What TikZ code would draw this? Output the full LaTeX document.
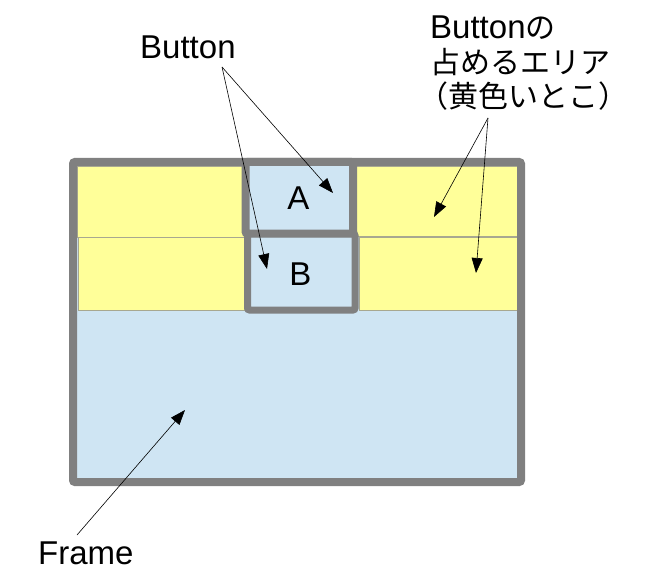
\documentclass[tikz,border=0pt]{standalone}
\usepackage{fontspec}
\setmainfont{Liberation Sans}
\newfontfamily\cjk{Noto Sans CJK JP}
\usetikzlibrary{arrows.meta}
\definecolor{fillblue}{HTML}{CFE5F3}
\definecolor{fillyel}{HTML}{FFFF99}
\definecolor{framegray}{HTML}{808080}
\definecolor{thingray}{HTML}{A8A890}
\begin{document}
\begin{tikzpicture}[x=1pt,y=-1pt,
  lbl/.style={inner sep=0pt,font=\fontsize{33}{38}\selectfont},
  jlbl/.style={inner sep=0pt,anchor=base west,font=\cjk\fontsize{30}{36}\selectfont},
  ptr/.style={draw=black,line width=0.6pt,-{Triangle[length=15pt,width=11pt]}},
  yel/.style={fill=fillyel,draw=thingray,line width=0.9pt},
  border/.style={draw=framegray,line width=8pt,rounded corners=2pt}]
\useasboundingbox (0,0) rectangle (651,583);
% frame and areas
\fill[fillblue] (73,162) rectangle (521,482);
\draw[yel] (77,166) rectangle (244,237);
\draw[yel] (78,237.5) rectangle (246,310);
\draw[yel] (355,166) rectangle (518,236);
\draw[yel] (359,237) rectangle (520,310);
\fill[fillblue] (245,162) rectangle (353,233);
\fill[fillblue] (247,233) rectangle (355,310);
\draw[border] (73,162) rectangle (521,482);
\draw[border] (245.5,162) rectangle (353,233.5);
\draw[border,line width=7pt] (247.5,233.5) rectangle (355,310);
% texts
\node[lbl,anchor=base] (a) at (298.5,210) {A};
\node[lbl,anchor=base] (b) at (300.5,285) {B};
\node[lbl,anchor=base west] (btn) at (140,59) {Button};
\node[lbl,anchor=base west] (frm) at (38,564) {Frame};
\node[lbl,anchor=base west] (y1) at (430,39) {Button{\cjk\fontsize{30}{36}\selectfont の}};
\node[jlbl] (y2) at (430,74) {占めるエリア};
\node[jlbl] (y3) at (418,108) {（黄色いとこ）};
% arrow ends
\coordinate (bs) at (222,67);
\coordinate (ta) at (333,193);
\coordinate (tb) at (267,269);
\coordinate (ys) at (488,118);
\coordinate (t1) at (434,217);
\coordinate (t2) at (476,273);
\coordinate (fs) at (77,535);
\coordinate (tf) at (185,410);
\draw[ptr] (bs) -- (ta);
\draw[ptr] (bs) -- (tb);
\draw[ptr] (ys) -- (t1);
\draw[ptr] (ys) -- (t2);
\draw[ptr] (fs) -- (tf);
\end{tikzpicture}
\end{document}
